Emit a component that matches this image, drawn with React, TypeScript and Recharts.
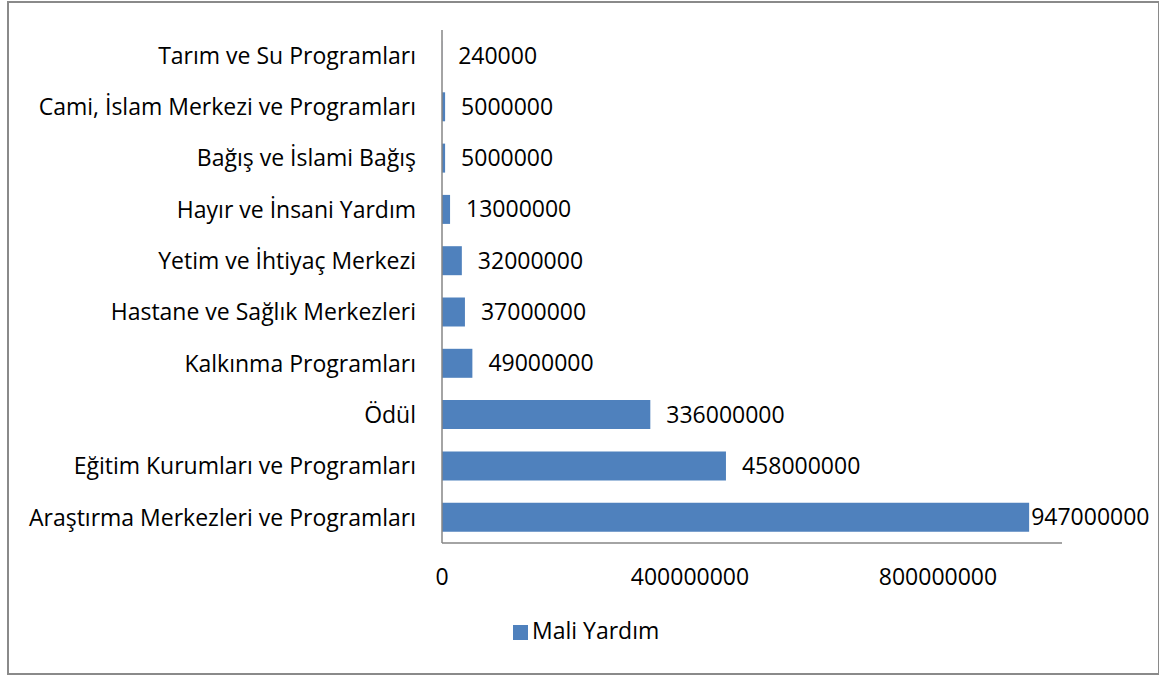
import React from "react";
import { BarChart, Bar, XAxis, YAxis, Legend, LabelList } from "recharts";

const categories = [
  "Tarım ve Su Programları",
  "Cami, İslam Merkezi ve Programları",
  "Bağış ve İslami Bağış",
  "Hayır ve İnsani Yardım",
  "Yetim ve İhtiyaç Merkezi",
  "Hastane ve Sağlık Merkezleri",
  "Kalkınma Programları",
  "Ödül ",
  "Eğitim Kurumları ve Programları",
  "Araştırma Merkezleri ve Programları",
];
const maliYardim = [240000, 5000000, 5000000, 13000000, 32000000, 37000000, 49000000, 336000000, 458000000, 947000000];
const xTicks = [0, 400000000, 800000000];

const data = categories.map((c, i) => ({ name: c, value: maliYardim[i] }));

const FONT = "'Open Sans', sans-serif";
const FS = 23;

const ValueLabel = (props: any) => {
  const { x, y, width, height, value } = props;
  const textW = String(value).length * 13.2;
  let tx = x + width + 16;
  if (tx + textW > 1150) tx = x + width + 2;
  return (
    <text x={tx} y={y + height / 2} dy="0.35em" fill="#000" fontSize={FS} fontFamily={FONT} textAnchor="start">
      {value}
    </text>
  );
};

export default function App() {
  return (
    <div style={{ position: "absolute", left: 0, top: 0, width: 1159, height: 675, background: "#fff" }}>
      <div style={{ position: "absolute", left: 7, top: 1, width: 1149, height: 670, border: "2px solid #8a8a8a" }} />
      <BarChart
        width={1159}
        height={675}
        data={data}
        layout="vertical"
        margin={{ top: 30, right: 97, bottom: 29, left: 0 }}
        barSize={29}
      >
        <XAxis
          type="number"
          domain={[0, 1000000000]}
          ticks={xTicks}
          tickLine={false}
          tickSize={0}
          tickMargin={26}
          height={71}
          stroke="#868686"
          strokeWidth={1.5}
          tick={{ fill: "#000", fontSize: FS, fontFamily: FONT }}
        />
        <YAxis
          type="category"
          dataKey="name"
          width={442}
          tickLine={false}
          tickSize={0}
          tickMargin={26}
          stroke="#868686"
          strokeWidth={1.5}
          interval={0}
          tick={{ fill: "#000", fontSize: FS, fontFamily: FONT }}
        />
        <Legend
          verticalAlign="bottom"
          align="left"
          iconType="square"
          iconSize={15}
          wrapperStyle={{ fontFamily: FONT, fontSize: FS, color: "#000", left: 513 }}
          formatter={(v) => <span style={{ color: "#000" }}>{v}</span>}
        />
        <Bar dataKey="value" name="Mali Yardım" fill="#4f81bd" isAnimationActive={false}>
          <LabelList dataKey="value" content={<ValueLabel />} />
        </Bar>
      </BarChart>
    </div>
  );
}
